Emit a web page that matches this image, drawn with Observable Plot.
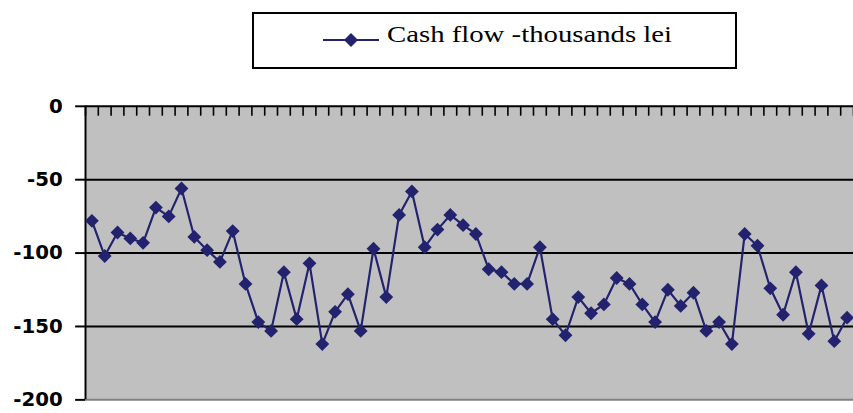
<!DOCTYPE html>
<html>
<head>
<meta charset="utf-8">
<script src="https://cdn.jsdelivr.net/npm/d3@7"></script>
<script src="https://cdn.jsdelivr.net/npm/@observablehq/plot@0.6"></script>
<style>
  html, body { margin: 0; padding: 0; background: #fff; overflow: hidden; }
  #wrap { position: relative; width: 853px; height: 413px; overflow: hidden; }
  #legend { position: absolute; left: 252px; top: 12px; width: 481px; height: 53px; border: 2px solid #000; background: #fff; }
  #legend svg { position: absolute; left: 69px; top: 18px; }
  #legtext { position: absolute; left: 133px; top: 9px; font-size: 23px; line-height: 23px; white-space: nowrap; transform: scaleX(1.25); transform-origin: left center; color: #000; }
  #chart { position: absolute; left: 0; top: 90px; }
</style>
</head>
<body>
<div id="wrap">
  <div id="legend">
    <svg width="56" height="16"><line x1="0" x2="56" y1="8" y2="8" stroke="#22226e" stroke-width="2"/><polygon points="28,1 35,8 28,15 21,8" fill="#22226e"/></svg>
    <span id="legtext" style="font-family: 'Liberation Serif', 'DejaVu Serif', serif;"></span>
  </div>
  <div id="chart"></div>
</div>
<script>
const seriesName = "Cash flow -thousands lei";
const periods = d3.range(1, 61);
const cashFlow = [
  -78, -102, -86, -90, -93, -69, -75, -56, -89, -98,
  -106, -85, -121, -147, -153, -113, -145, -107, -162, -140,
  -128, -153, -97, -130, -74, -58, -96, -84, -74, -81,
  -87, -111, -113, -121, -121, -96, -145, -156, -130, -141,
  -135, -117, -121, -135, -147, -125, -136, -127, -153, -147,
  -162, -87, -95, -124, -142, -113, -155, -122, -160, -144
];
const yTicks = [0, -50, -100, -150, -200];
const gridValues = [-50, -100, -150];

document.getElementById("legtext").textContent = seriesName;

const data = periods.map((p, i) => ({period: p, value: cashFlow[i]}));
const color = "#22226e";

const chart = Plot.plot({
  width: 863,
  height: 323,
  marginTop: 16,
  marginBottom: 10,
  marginLeft: 86,
  marginRight: 0,
  style: {fontFamily: "DejaVu Sans", fontSize: "20px", fontWeight: "bold", color: "#000", background: "transparent", overflow: "visible"},
  x: {type: "linear", domain: [periods[0] - 0.5, periods[periods.length - 1] + 0.5], axis: null},
  y: {domain: [d3.min(yTicks), d3.max(yTicks)], axis: null},
  marks: [
    Plot.frame({fill: "#c0c0c0", stroke: null}),
    Plot.ruleY(gridValues, {stroke: "#000", strokeWidth: 2}),
    Plot.ruleY([d3.min(yTicks)], {stroke: "#808080", strokeWidth: 2}),
    Plot.ruleY([d3.max(yTicks)], {stroke: "#000", strokeWidth: 2}),
    Plot.ruleX(periods.concat([periods[periods.length - 1] + 1]), {x: d => d - 0.5, insetBottom: 287, stroke: "#000", strokeWidth: 1.6}),
    Plot.ruleX([periods[0] - 0.5], {stroke: "#000", strokeWidth: 2}),
    Plot.line(data, {x: "period", y: "value", stroke: color, strokeWidth: 2.2}),
    Plot.dot(data, {x: "period", y: "value", symbol: "diamond2", r: 6.3, fill: color, stroke: null}),
    Plot.axisY({ticks: yTicks, tickSize: 10, tickPadding: 13, strokeWidth: 2, tickFormat: d => String(d), label: null, fontSize: 20, fontWeight: "bold", fontFamily: "DejaVu Sans"})
  ]
});
document.getElementById("chart").appendChild(chart);
</script>
</body>
</html>
